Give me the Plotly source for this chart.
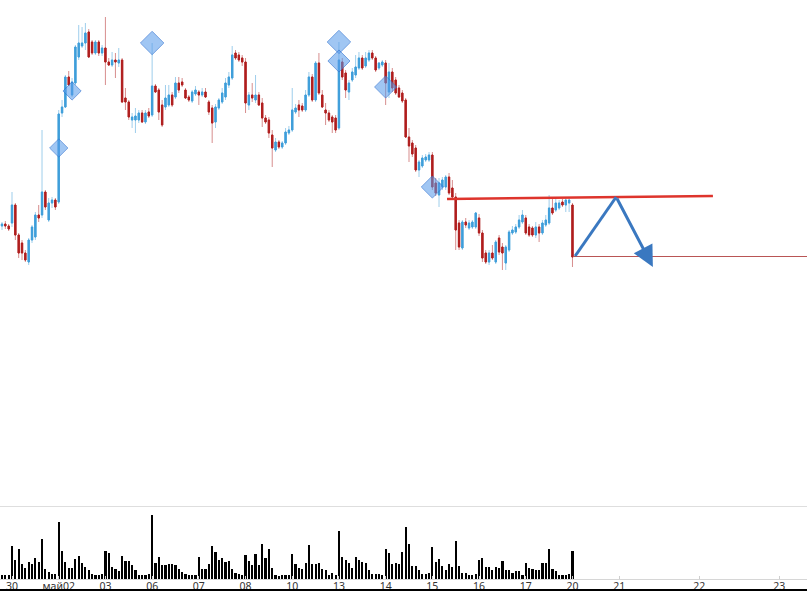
import plotly.graph_objects as go

# bar index (hourly bars, 14 per trading day; n=0 is 30 Apr 10:00)
bar_index = list(range(-3, 169))

open_ = [374, 376, 374,
 377, 395, 365, 357, 347, 338, 360, 363, 385, 385, 408, 380, 397, 400,
 398, 487, 493, 523, 505, 517, 543, 554, 557, 568, 558, 547, 558, 547,
 552, 538, 535, 540, 537, 540, 502, 498, 480, 480, 480, 487, 478, 488,
 485, 514, 510, 495, 493, 495, 505, 503, 517, 518, 510, 503, 499, 506,
 508, 505, 508, 498, 492, 478, 492, 498, 503, 515, 522, 547, 545, 542,
 538, 495, 505, 500, 505, 497, 482, 480, 465, 450, 458, 453, 457, 467,
 470, 488, 495, 494, 490, 505, 523, 500, 537, 505, 490, 487, 483, 482,
 472, 538, 527, 508, 520, 525, 532, 542, 534, 540, 547, 542, 532, 535,
 537, 508, 528, 520, 512, 507, 500, 463, 457, 452, 430, 434, 440, 440,
 445, 417, 405, 413, 413, 423, 412, 403, 377, 352, 378, 372, 373, 373,
 382, 367, 347, 338, 347, 338, 362, 353, 337, 350, 367, 368, 373, 378,
 382, 373, 372, 365, 373, 367, 375, 377, 392, 390, 392, 398, 395, 397,
 395]
high = [378, 379, 376,
 408, 397, 367, 360, 350, 362, 375, 388, 395, 470, 410, 402, 403, 402,
 490, 500, 525, 529, 522, 555, 575, 573, 577, 571, 560, 560, 560, 555,
 583, 542, 548, 547, 552, 542, 512, 500, 487, 492, 490, 490, 490, 492,
 557, 516, 512, 500, 515, 515, 508, 523, 523, 522, 512, 505, 510, 514,
 510, 512, 512, 500, 495, 496, 502, 512, 522, 528, 554, 550, 548, 545,
 542, 508, 517, 525, 508, 502, 485, 483, 470, 462, 460, 459, 472, 474,
 512, 496, 500, 497, 510, 528, 526, 539, 547, 510, 497, 490, 485, 485,
 558, 542, 530, 520, 532, 545, 548, 545, 548, 550, 550, 544, 538, 540,
 540, 537, 532, 523, 515, 510, 502, 472, 460, 455, 440, 445, 446, 448,
 448, 422, 422, 423, 425, 427, 420, 407, 380, 380, 382, 380, 380, 388,
 386, 370, 350, 350, 355, 360, 365, 357, 355, 370, 374, 376, 385, 390,
 385, 376, 374, 378, 376, 380, 385, 405, 402, 402, 400, 401, 402, 402,
 397]
low = [370, 371, 369,
 373, 360, 342, 340, 338, 335, 357, 360, 378, 382, 390, 378, 392, 390,
 396, 483, 492, 514, 503, 515, 540, 552, 550, 542, 545, 545, 544, 544,
 515, 534, 533, 522, 533, 497, 490, 480, 472, 467, 477, 477, 476, 482,
 483, 507, 480, 473, 490, 493, 493, 501, 507, 513, 501, 498, 497, 504,
 495, 503, 502, 485, 457, 472, 490, 496, 500, 512, 520, 540, 538, 534,
 487, 490, 498, 497, 494, 473, 476, 462, 433, 448, 451, 451, 455, 465,
 468, 486, 483, 488, 488, 503, 498, 498, 505, 492, 475, 478, 467, 467,
 470, 520, 502, 500, 518, 522, 530, 530, 532, 538, 540, 528, 530, 533,
 495, 502, 508, 505, 502, 497, 462, 438, 443, 428, 423, 432, 438, 438,
 410, 404, 393, 410, 410, 405, 400, 350, 350, 350, 372, 370, 371, 371,
 364, 338, 336, 335, 340, 336, 345, 330, 330, 348, 365, 366, 371, 376,
 365, 363, 363, 362, 358, 365, 373, 375, 385, 388, 390, 393, 388, 388,
 333]
close = [376, 374, 371,
 395, 365, 347, 347, 340, 360, 373, 385, 382, 408, 393, 397, 400, 393,
 486, 493, 523, 515, 518, 553, 557, 557, 567, 543, 547, 558, 547, 552,
 538, 535, 540, 538, 540, 498, 498, 483, 483, 484, 487, 478, 487, 484,
 514, 508, 488, 475, 502, 505, 495, 517, 510, 515, 502, 500, 508, 510,
 505, 508, 503, 488, 477, 493, 500, 507, 517, 523, 545, 542, 540, 538,
 497, 505, 502, 505, 495, 482, 478, 467, 452, 458, 453, 457, 468, 470,
 490, 492, 490, 490, 505, 523, 500, 537, 507, 493, 487, 480, 478, 470,
 540, 523, 510, 517, 528, 533, 542, 532, 542, 547, 542, 530, 537, 538,
 517, 528, 512, 507, 503, 499, 463, 454, 446, 430, 438, 442, 443, 445,
 413, 407, 417, 420, 423, 407, 403, 370, 353, 378, 375, 377, 378, 387,
 367, 342, 338, 347, 342, 358, 348, 347, 353, 368, 370, 373, 380, 385,
 367, 365, 365, 373, 367, 377, 380, 392, 387, 397, 397, 395, 400, 400,
 343]
volume = [12, 12, 10,
 98, 57, 90, 45, 32, 50, 45, 62, 50, 120, 30, 20, 15, 15,
 170, 83, 50, 32, 33, 60, 67, 48, 35, 25, 15, 12, 12, 15,
 82, 77, 35, 30, 22, 68, 52, 52, 40, 25, 12, 12, 12, 15,
 192, 48, 65, 40, 42, 43, 44, 40, 28, 20, 15, 12, 12, 10,
 65, 28, 30, 45, 97, 80, 55, 62, 50, 53, 30, 18, 13, 12,
 70, 52, 42, 73, 42, 105, 62, 88, 32, 10, 7, 12, 12, 12,
 73, 45, 33, 28, 47, 100, 43, 43, 47, 30, 25, 12, 17, 12,
 144, 65, 55, 48, 33, 65, 57, 50, 48, 25, 15, 15, 15, 10,
 89, 77, 43, 47, 43, 80, 154, 105, 38, 37, 27, 13, 13, 18,
 95, 50, 60, 37, 25, 43, 35, 113, 39, 18, 18, 10, 12, 13,
 57, 63, 35, 35, 25, 35, 33, 53, 25, 25, 18, 22, 22, 12,
 48, 33, 30, 27, 25, 48, 48, 89, 30, 22, 10, 10, 10, 15,
 83]

# axis ticks (day starts); future days are drawn with 24 slots per day
tick_pos = [0, 14, 28, 42, 56, 70, 84, 98, 112, 126, 140, 154, 168, 182, 206, 230]
tick_text = ['30', 'май02', '03', '06', '07', '08', '10', '13', '14', '15',
             '16', '17', '20', '21', '22', '23']

# signal diamonds
signal_x = [14, 18, 42, 98, 98, 112, 126]
signal_y = [452, 509, 557, 558, 539, 513, 413]
signal_size = [14, 14, 18, 18, 17, 17, 17]

# drawn objects (analyst markup)
level_x = [130.4, 210.1]
level_y = [401, 404]
target_x = [168.2, 245]
target_y = [343.5, 343.5]
pattern_x = [168.8, 181.1, 192.1]
pattern_y = [344, 403, 333]

UP = 'rgb(62,158,218)'
DN = 'rgb(176,30,30)'
UP_W = 'rgba(62,158,218,0.5)'
DN_W = 'rgba(176,30,30,0.5)'

body_hi = [max(o, c) for o, c in zip(open_, close)]
body_lo = [min(o, c) for o, c in zip(open_, close)]

fig = go.Figure()
fig.add_trace(go.Candlestick(
    x=bar_index, open=open_, high=high, low=low, close=close,
    increasing=dict(line=dict(color=UP_W, width=1), fillcolor=UP_W),
    decreasing=dict(line=dict(color=DN_W, width=1), fillcolor=DN_W),
    xaxis='x', yaxis='y', showlegend=False, hoverinfo='skip'))
fig.add_trace(go.Candlestick(
    x=bar_index, open=open_, high=body_hi, low=body_lo, close=close,
    increasing=dict(line=dict(color=UP, width=1), fillcolor=UP),
    decreasing=dict(line=dict(color=DN, width=1), fillcolor=DN),
    xaxis='x', yaxis='y', showlegend=False))

fig.add_trace(go.Scatter(
    x=signal_x, y=signal_y, mode='markers',
    marker=dict(symbol='diamond', size=signal_size,
                color='rgba(88,155,234,0.8)',
                line=dict(color='rgba(50,115,210,0.95)', width=1)),
    xaxis='x', yaxis='y', showlegend=False))

fig.add_trace(go.Scatter(x=level_x, y=level_y, mode='lines',
                         line=dict(color='rgb(222,52,44)', width=2.5),
                         xaxis='x', yaxis='y', showlegend=False))
fig.add_trace(go.Scatter(x=target_x, y=target_y, mode='lines',
                         line=dict(color='rgb(185,85,85)', width=1),
                         xaxis='x', yaxis='y', showlegend=False))
fig.add_trace(go.Scatter(x=pattern_x[:2], y=pattern_y[:2], mode='lines',
                         line=dict(color='rgb(58,120,192)', width=3),
                         xaxis='x', yaxis='y', showlegend=False))
fig.add_annotation(x=pattern_x[2], y=pattern_y[2], ax=pattern_x[1], ay=pattern_y[1],
                   xref='x', yref='y', axref='x', ayref='y', text='',
                   showarrow=True, arrowhead=2, arrowsize=1.4, arrowwidth=3,
                   arrowcolor='rgb(58,120,192)', standoff=0)

fig.add_trace(go.Bar(x=bar_index, y=volume, marker=dict(color='black', line=dict(width=0)),
                     width=0.65, xaxis='x2', yaxis='y2', showlegend=False))

XR = [-3.6, 238.3]
fig.update_layout(
    width=807, height=592,
    margin=dict(l=0, r=0, t=0, b=13, autoexpand=False),
    paper_bgcolor='white', plot_bgcolor='white',
    boxgap=0.42,
    font=dict(family='Noto Sans, sans-serif', size=11, color='#333'),
    xaxis=dict(range=XR, domain=[0, 1], anchor='y', showticklabels=False,
               showgrid=False, zeroline=False, rangeslider=dict(visible=False)),
    yaxis=dict(range=[95, 600], domain=[0.1278, 1], visible=False),
    xaxis2=dict(range=XR, domain=[0, 1], anchor='y2', tickmode='array',
                tickvals=tick_pos, ticktext=tick_text, showgrid=False,
                zeroline=False, showline=True, linecolor='#d6d6d6',
                ticks='inside', ticklen=3, tickcolor='#cfcfcf',
                ticklabelstandoff=-3,
                tickfont=dict(size=10.5, color='#333')),
    yaxis2=dict(range=[0, 214.5], domain=[0, 0.1235], visible=False),
    bargap=0,
    shapes=[
        dict(type='line', xref='paper', yref='paper', x0=0, x1=1, y0=0.1252, y1=0.1252,
             line=dict(color='#dedede', width=1)),
        dict(type='line', xref='paper', yref='paper', x0=0, x1=1, y0=-0.019, y1=-0.019,
             line=dict(color='black', width=2)),
    ],
)

fig.write_html('out.html', config={'displayModeBar': False},
               post_script="document.body.style.margin='0';document.body.style.overflow='hidden';")
